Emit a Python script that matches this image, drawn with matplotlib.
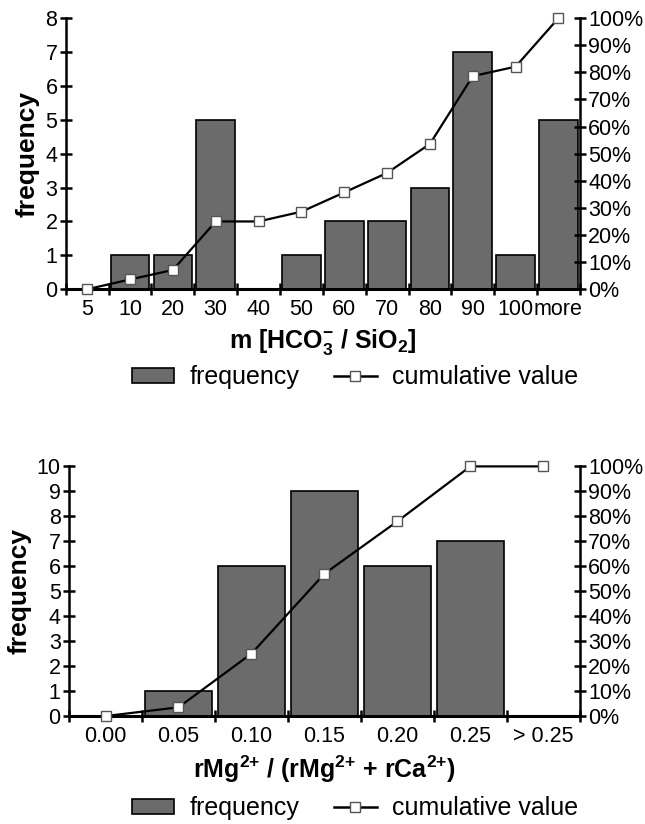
import numpy as np
import matplotlib
matplotlib.use("Agg")
import matplotlib.pyplot as plt
from matplotlib.ticker import FuncFormatter
from matplotlib.lines import Line2D
from matplotlib.patches import Patch

plt.rcParams['font.family'] = ['Liberation Sans', 'DejaVu Sans']
plt.rcParams['mathtext.default'] = 'regular'

# top chart: m [HCO3- / SiO2]
m_labels = ["5", "10", "20", "30", "40", "50", "60", "70", "80", "90", "100", "more"]
m_freq = [0, 1, 1, 5, 0, 1, 2, 2, 3, 7, 1, 5]
m_cum = [0.0, 3.6, 7.1, 25.0, 25.0, 28.6, 35.7, 42.9, 53.6, 78.6, 82.1, 100.0]

# bottom chart: rMg / (rMg + rCa)
r_labels = ["0.00", "0.05", "0.10", "0.15", "0.20", "0.25", "> 0.25"]
r_freq = [0, 1, 6, 9, 6, 7, 0]
r_cum = [0.0, 3.5, 25.0, 57.0, 78.0, 100.0, 100.0]

BAR = "#6b6b6b"
TICK_FS = 15.5


def hist_panel(ax, labels, freq, cum, ymax, width, xlabel):
    x = np.arange(len(labels))
    ax.bar(x, freq, width=width, color=BAR, edgecolor="black", linewidth=1.2, zorder=2)
    ax.set_xlim(-0.5, len(labels) - 0.5)
    ax.set_ylim(0, ymax)
    ax.set_yticks(range(0, ymax + 1))
    ax.set_xticks(x)
    ax.set_xticklabels(labels, fontsize=TICK_FS)
    ax.set_xticks(np.arange(len(labels) + 1) - 0.5, minor=True)
    ax.tick_params(axis="x", which="major", length=0, pad=7)
    ax.tick_params(axis="x", which="minor", direction="inout", length=9, width=1.8)
    ax.tick_params(axis="y", direction="inout", length=8, width=1.8, labelsize=TICK_FS, pad=2)
    ax.spines["top"].set_visible(False)
    ax.spines["right"].set_visible(False)
    ax.spines["left"].set_linewidth(1.8)
    ax.spines["bottom"].set_linewidth(2.2)
    ax.set_ylabel("frequency", fontsize=19, fontweight="bold", labelpad=4)
    ax.set_xlabel(xlabel, fontsize=18, fontweight="bold", labelpad=5)

    ax2 = ax.twinx()
    ax2.plot(x, np.array(cum) / 100, color="black", linewidth=1.6, marker="s",
             markersize=7.5, markerfacecolor="white", markeredgecolor="#555555",
             markeredgewidth=1.0, zorder=3, clip_on=False)
    ax2.set_ylim(0, 1)
    ax2.set_yticks(np.linspace(0, 1, 11))
    ax2.yaxis.set_major_formatter(FuncFormatter(lambda v, p: f"{v * 100:.0f}%"))
    ax2.tick_params(axis="y", direction="inout", length=8, width=1.8, labelsize=TICK_FS, pad=2)
    for s in ["top", "left", "bottom"]:
        ax2.spines[s].set_visible(False)
    ax2.spines["right"].set_linewidth(1.8)
    return ax2


fig = plt.figure(figsize=(6.45, 8.24), dpi=100)

ax_top = fig.add_axes([0.102, 0.649, 0.797, 0.329])
hist_panel(ax_top, m_labels, m_freq, m_cum, 8, 0.9, r"m [HCO$_3^{-}$ / SiO$_2$]")

ax_bot = fig.add_axes([0.107, 0.131, 0.792, 0.303])
hist_panel(ax_bot, r_labels, r_freq, r_cum, 10, 0.92,
           r"rMg$^{2{+}}$ / (rMg$^{2{+}}$ + rCa$^{2{+}}$)")

handles = [Patch(facecolor=BAR, edgecolor="black", linewidth=1.2),
           Line2D([], [], color="black", linewidth=1.8, marker="s", markersize=7,
                  markerfacecolor="white", markeredgecolor="#555555")]
names = ["frequency", "cumulative value"]
for ax, y in [(ax_top, 0.542), (ax_bot, 0.019)]:
    fig.legend(handles, names, loc="center", bbox_to_anchor=(0.55, y), ncol=2,
               frameon=False, fontsize=18, handlelength=1.7, handleheight=0.55,
               columnspacing=1.4, handletextpad=0.6, borderpad=0.1)

fig.savefig("out.png", dpi=100)
